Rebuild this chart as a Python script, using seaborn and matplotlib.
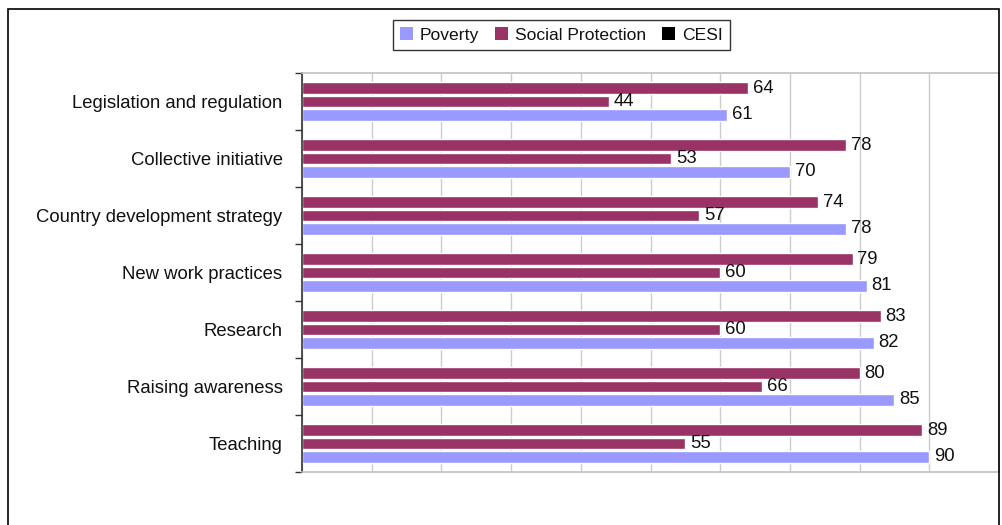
import matplotlib
matplotlib.use("Agg")
import matplotlib.pyplot as plt
from matplotlib.patches import Rectangle, Patch
from matplotlib.ticker import FixedLocator, MultipleLocator
import pandas as pd
import seaborn as sns

categories = [
    "Legislation and regulation",
    "Collective initiative",
    "Country development strategy",
    "New work practices",
    "Research",
    "Raising awareness",
    "Teaching",
]
cesi = [64, 78, 74, 79, 83, 80, 89]
social_protection = [44, 53, 57, 60, 60, 66, 55]
poverty = [61, 70, 78, 81, 82, 85, 90]

legend_series = ["Poverty", "Social Protection", "CESI"]
legend_colors = ["#9999FF", "#993366", "#000000"]

df = pd.DataFrame({
    "category": categories * 3,
    "series": ["CESI"] * 7 + ["Social Protection"] * 7 + ["Poverty"] * 7,
    "value": cesi + social_protection + poverty,
})

sns.set_theme(style="white")
plt.rcParams["font.family"] = ["Liberation Sans", "DejaVu Sans"]

fig = plt.figure(figsize=(10.02, 5.25), dpi=100)
ax = fig.add_axes([302 / 1002, 1 - 472 / 525, 697 / 1002, 399 / 525])

sns.barplot(
    data=df, y="category", x="value", hue="series",
    hue_order=["CESI", "Social Protection", "Poverty"],
    palette=["#993366", "#993366", "#9999FF"],
    order=categories, orient="h", width=0.7, gap=0.12,
    saturation=1, legend=False, ax=ax,
)

for cont in ax.containers:
    ax.bar_label(cont, padding=3.5, fontsize=13.3, color="#111111")

ax.set_xlim(0, 100)
ax.set_ylim(6.5, -0.5)
ax.set_xlabel("")
ax.set_ylabel("")
ax.xaxis.set_major_locator(MultipleLocator(10))
ax.grid(axis="x", color="#cccccc", linewidth=1)
ax.set_axisbelow(True)
ax.tick_params(axis="x", bottom=False, labelbottom=False)
ax.tick_params(axis="y", which="major", length=0, pad=14, labelsize=13.3, labelcolor="#111111")
ax.yaxis.set_minor_locator(FixedLocator([i - 0.5 for i in range(8)]))
ax.tick_params(axis="y", which="minor", left=True, length=5, width=1, color="#333333", direction="out")

for side in ["top", "right", "bottom"]:
    ax.spines[side].set_color("#c0c0c0")
    ax.spines[side].set_linewidth(1.2)
ax.spines["left"].set_color("#333333")
ax.spines["left"].set_linewidth(1.2)

handles = [Patch(facecolor=c, edgecolor="none") for c in legend_colors]
leg = fig.legend(
    handles, legend_series, loc="center", bbox_to_anchor=(561 / 1002, 1 - 35 / 525),
    ncol=3, fontsize=12.6, frameon=True, fancybox=False, edgecolor="#000000",
    handlelength=0.75, handleheight=0.75, handletextpad=0.4, columnspacing=0.9,
    borderpad=0.4, labelcolor="#111111",
)
leg.get_frame().set_linewidth(1.0)

fig.patches.append(Rectangle((8 / 1002, -0.05), 991 / 1002, 1.05 - 9 / 525,
                             transform=fig.transFigure, fill=False,
                             edgecolor="#000000", linewidth=1.2))

fig.savefig("out.png", dpi=100)
